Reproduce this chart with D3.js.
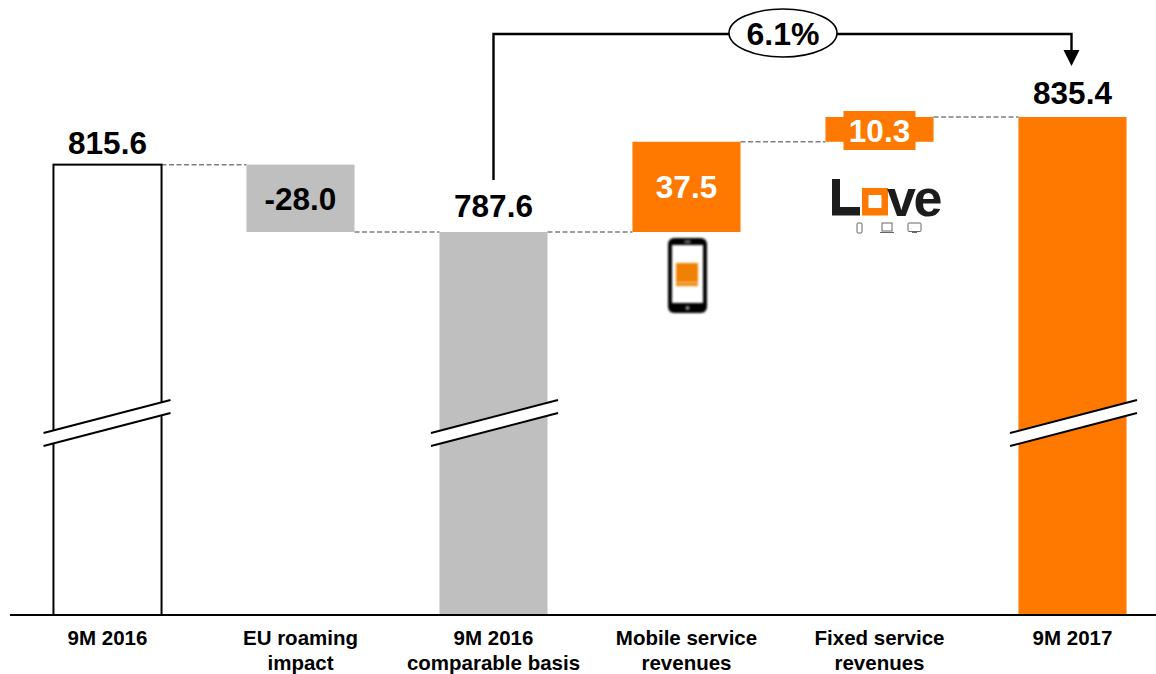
<!DOCTYPE html>
<html>
<head>
<meta charset="utf-8">
<script src="https://cdn.jsdelivr.net/npm/d3@7"></script>
<style>
  html, body { margin: 0; padding: 0; background: #fff; }
  svg { display: block; }
  text { font-family: "Liberation Sans", Arial, Helvetica, sans-serif; font-weight: 700; }
</style>
</head>
<body>
<svg id="chart" width="1156" height="674"></svg>
<script>
const categories = ["9M 2016", "EU roaming impact", "9M 2016 comparable basis", "Mobile service revenues", "Fixed service revenues", "9M 2017"];
const categoryLines = [["9M 2016"], ["EU roaming", "impact"], ["9M 2016", "comparable basis"], ["Mobile service", "revenues"], ["Fixed service", "revenues"], ["9M 2017"]];
const barStart = [628.4, 787.6, 628.4, 787.6, 825.1, 628.4];
const barEnd = [815.6, 815.6, 787.6, 825.1, 835.4, 835.4];
const linkLevels = [815.6, 787.6, 787.6, 825.1, 835.4];
const barLabels = ["815.6", "-28.0", "787.6", "37.5", "10.3", "835.4"];
const growthLabel = "6.1%";
const brokenBars = ["9M 2016", "9M 2016 comparable basis", "9M 2017"];

const ORANGE = "#ff7900", GREY = "#bfbfbf";
const barFill = ["#fff", GREY, GREY, ORANGE, ORANGE, ORANGE];

const svg = d3.select("#chart");
const x = d3.scaleBand().domain(categories).range([11, 1169]).paddingInner(0.44).paddingOuter(0.22);
const y = d3.scaleLinear().domain([628.4, 835.4]).range([615, 117]);
const cx = c => x(c) + x.bandwidth() / 2;

// dashed links between successive bars
const links = d3.pairs(categories).map(([a, b], i) => ({ a, b, level: linkLevels[i] }));
svg.append("g").selectAll("line").data(links).join("line")
  .attr("x1", d => x(d.a) + x.bandwidth()).attr("x2", d => x(d.b))
  .attr("y1", d => y(d.level)).attr("y2", d => y(d.level))
  .attr("stroke", "#7f7f7f").attr("stroke-width", 1.5).attr("stroke-dasharray", "5 2.5");

// bars
svg.append("g").selectAll("rect").data(categories).join("rect")
  .attr("x", d => x(d)).attr("width", x.bandwidth())
  .attr("y", (d, i) => y(barEnd[i]))
  .attr("height", (d, i) => y(barStart[i]) - y(barEnd[i]))
  .attr("fill", (d, i) => barFill[i])
  .attr("stroke", (d, i) => i === 0 ? "#000" : "none")
  .attr("stroke-width", 2);

// axis-break marks on the truncated bars
const breaks = svg.append("g").selectAll("g").data(brokenBars).join("g")
  .attr("transform", (d, i) => `translate(${cx(d) + (i ? 1.5 : 0)},0)`);
breaks.append("path").attr("d", "M-64,433L63,400L63,413L-64,446Z").attr("fill", "#fff");
breaks.append("path").attr("d", "M-64,433L63,400M-64,446L63,413").attr("fill", "none").attr("stroke", "#000").attr("stroke-width", 2);

// baseline
svg.append("line").attr("x1", 10).attr("x2", 1156).attr("y1", 615).attr("y2", 615).attr("stroke", "#000").attr("stroke-width", 2);

// wider label plate behind the small fixed-service step
const fixed = categories[4];
svg.append("rect").attr("x", cx(fixed) - 36).attr("width", 72).attr("y", 111).attr("height", 39).attr("fill", ORANGE);

// value labels
const labelY = [143, 199, 206, 187, 131, 93];
const labelFill = ["#000", "#000", "#000", "#fff", "#fff", "#000"];
svg.append("g").selectAll("text").data(categories).join("text")
  .attr("x", d => cx(d)).attr("y", (d, i) => labelY[i])
  .attr("dy", "0.36em").attr("text-anchor", "middle")
  .attr("font-size", 31.5)
  .attr("fill", (d, i) => labelFill[i])
  .text((d, i) => barLabels[i]);

// category labels
const cats = svg.append("g").selectAll("text").data(categories).join("text")
  .attr("text-anchor", "middle").attr("font-size", 20.5).attr("fill", "#000");
cats.selectAll("tspan").data((d, i) => categoryLines[i].map(t => ({ t, c: d }))).join("tspan")
  .attr("x", d => cx(d.c)).attr("y", (d, i) => 645 + i * 24.5).text(d => d.t);

// growth bracket from the comparable base to the closing bar
const from = cx(categories[2]), to = cx(categories[5]);
svg.append("path").attr("d", `M${from},180V34H${to - 1}V52`).attr("fill", "none").attr("stroke", "#000").attr("stroke-width", 2.4);
svg.append("path").attr("d", `M${to - 9},50H${to + 7}L${to - 1},66Z`).attr("fill", "#000");
svg.append("ellipse").attr("cx", 783).attr("cy", 33).attr("rx", 54).attr("ry", 24).attr("fill", "#fff").attr("stroke", "#000").attr("stroke-width", 1.6);
svg.append("text").attr("x", 783).attr("y", 33).attr("dy", "0.36em").attr("text-anchor", "middle").attr("font-size", 32).text(growthLabel);

// handset pictogram
const phone = svg.append("g").attr("transform", "translate(668,238)").style("filter", "blur(0.8px)");
phone.append("rect").attr("width", 39).attr("height", 75).attr("rx", 6).attr("fill", "#000");
phone.append("rect").attr("x", 4).attr("y", 7).attr("width", 31).attr("height", 58).attr("fill", "#fff");
phone.append("rect").attr("x", 8).attr("y", 25).attr("width", 22).attr("height", 23).attr("fill", "#f08000");
phone.append("rect").attr("x", 8).attr("y", 44).attr("width", 22).attr("height", 1.2).attr("fill", "#fff").attr("opacity", 0.6);
phone.append("circle").attr("cx", 19.5).attr("cy", 70).attr("r", 2).attr("fill", "#999");
phone.append("rect").attr("x", 16.5).attr("y", 2.5).attr("width", 6).attr("height", 2.5).attr("fill", "#777");

// Love wordmark with its device icons
const love = svg.append("g");
love.append("path").attr("d", "M832,179H840V207H860V215.5H832Z").attr("fill", "#1c1c1c");
love.append("path").attr("fill-rule", "evenodd").attr("d", "M862,188H888V215.5H862ZM868.5,195V208H881.5V195Z").attr("fill", ORANGE);
love.append("text").attr("x", 887).attr("y", 215.5).attr("font-size", 52).attr("letter-spacing", -2.5).attr("fill", "#1c1c1c").text("ve");
const icons = love.append("g").attr("fill", "none").attr("stroke", "#666").attr("stroke-width", 1);
icons.append("rect").attr("x", 857).attr("y", 223).attr("width", 5).attr("height", 10).attr("rx", 1);
icons.append("rect").attr("x", 882).attr("y", 223).attr("width", 10).attr("height", 8);
icons.append("path").attr("d", "M880,232.5H894");
icons.append("rect").attr("x", 908).attr("y", 223).attr("width", 13).attr("height", 8.5).attr("rx", 1);
icons.append("path").attr("d", "M912,232.5H917");
</script>
</body>
</html>
